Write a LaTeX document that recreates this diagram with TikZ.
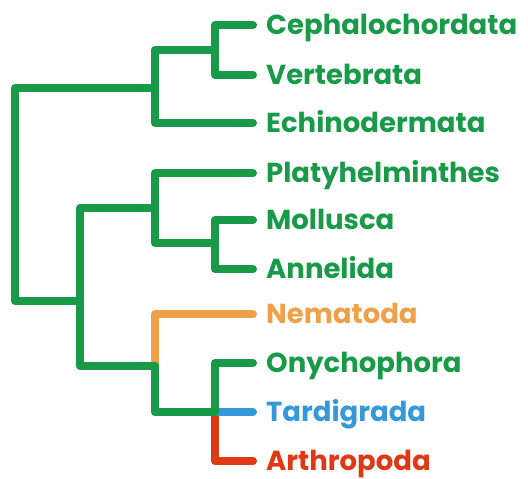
\documentclass[tikz,border=0pt]{standalone}
\usepackage{fontspec}
\setmainfont{Poppins}
\usetikzlibrary{positioning}
\definecolor{treegreen}{RGB}{24,154,72}
\definecolor{treeorange}{RGB}{240,160,72}
\definecolor{treeblue}{RGB}{52,152,219}
\definecolor{treered}{RGB}{222,56,20}

\begin{document}
\begin{tikzpicture}[
    x=1pt, y=-1pt,
    branch/.style={line width=8pt, line cap=round, line join=round, treegreen},
    taxon/.style={anchor=west, inner xsep=13pt, inner ysep=0pt, text height=19pt, text depth=0pt, font=\fontsize{27.5}{30}\selectfont\bfseries, text=treegreen},
]
\useasboundingbox (0,0) rectangle (528,479);

% Taxa
\node[taxon] (ceph) at (253,25) {Cephalochordata};
\node[taxon] (vert) at (253,75) {Vertebrata};
\node[taxon] (echi) at (253,123) {Echinodermata};
\node[taxon] (plat) at (253,173) {Platyhelminthes};
\node[taxon] (moll) at (253,220) {Mollusca};
\node[taxon] (anne) at (253,269) {Annelida};
\node[taxon, text=treeorange] (nema) at (253,314) {Nematoda};
\node[taxon] (onyc) at (253,363) {Onychophora};
\node[taxon, text=treeblue] (tard) at (253,412) {Tardigrada};
\node[taxon, text=treered] (arth) at (253,461) {Arthropoda};

% Internal nodes
\coordinate (root) at (15,195);
\coordinate (deut) at (155,88);
\coordinate (chor) at (215,50);
\coordinate (prot) at (80,301);
\coordinate (spir) at (155,208);
\coordinate (troc) at (215,243);
\coordinate (ecdy) at (155,366);
\coordinate (panar) at (215,412);

% Branches
\draw[branch, treered] (panar) |- (arth.west);
\draw[branch, treeblue] (panar) -- (tard.west);
\draw[branch, treeorange] (ecdy) |- (nema.west);
\draw[branch] (root) |- (deut);
\draw[branch] (root) |- (prot);
\draw[branch] (deut) |- (chor);
\draw[branch] (deut) |- (echi.west);
\draw[branch] (chor) |- (ceph.west);
\draw[branch] (chor) |- (vert.west);
\draw[branch] (prot) |- (spir);
\draw[branch] (prot) |- (ecdy);
\draw[branch] (spir) |- (plat.west);
\draw[branch] (spir) |- (troc);
\draw[branch] (troc) |- (moll.west);
\draw[branch] (troc) |- (anne.west);
\draw[branch] (ecdy) |- (panar);
\draw[branch] (panar) |- (onyc.west);

\end{tikzpicture}
\end{document}
